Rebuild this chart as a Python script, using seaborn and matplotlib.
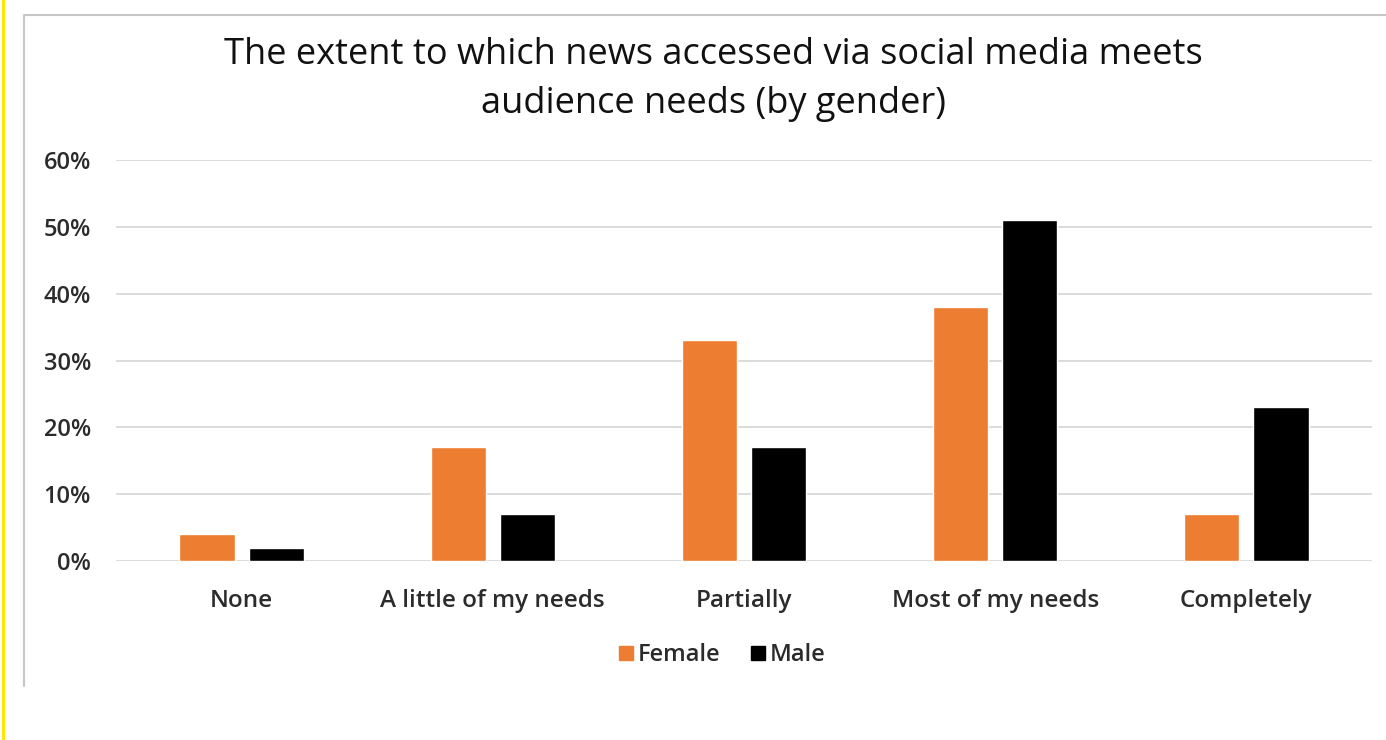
import matplotlib
matplotlib.use("Agg")
import matplotlib.pyplot as plt
from matplotlib.lines import Line2D
from matplotlib.patches import Rectangle
from matplotlib.ticker import PercentFormatter
import seaborn as sns
import pandas as pd

categories = ["None", "A little of my needs", "Partially", "Most of my needs", "Completely"]
female = [0.04, 0.17, 0.33, 0.38, 0.07]
male = [0.02, 0.07, 0.17, 0.51, 0.23]
series = ["Female", "Male"]
colors = {"Female": "#ED7D31", "Male": "#000000"}

df = pd.DataFrame({
    "category": categories * 2,
    "gender": [series[0]] * len(categories) + [series[1]] * len(categories),
    "share": female + male,
})

sns.set_theme(style="white")
plt.rcParams["font.family"] = ["Open Sans", "DejaVu Sans"]
label_color = "#2b2b2b"

W, H = 1386, 740
fig = plt.figure(figsize=(W / 100, H / 100), dpi=100)
fig.patch.set_facecolor("white")

ax = fig.add_axes([116 / W, (H - 561) / H, (1372 - 116) / W, (561 - 160) / H])
sns.barplot(data=df, x="category", y="share", hue="gender", order=categories,
            hue_order=series, palette=colors, width=0.55, gap=0.2,
            saturation=1, ax=ax, legend=False)

ax.set_ylim(0, 0.6)
ax.set_yticks([0, 0.1, 0.2, 0.3, 0.4, 0.5, 0.6])
ax.yaxis.set_major_formatter(PercentFormatter(1.0, decimals=0))
ax.grid(axis="y", color="#d9d9d9", linewidth=1.3)
ax.set_axisbelow(True)
for s in ax.spines.values():
    s.set_visible(False)
ax.set_xlabel("")
ax.set_ylabel("")
ax.tick_params(axis="y", length=0, pad=18, labelsize=17, labelcolor=label_color)
ax.tick_params(axis="x", length=0, pad=20, labelsize=17.5, labelcolor=label_color)
for lab in ax.get_xticklabels() + ax.get_yticklabels():
    lab.set_fontweight("semibold")

fig.text(0.515, (H - 55) / H, "The extent to which news accessed via social media meets",
         ha="center", va="center", fontsize=26, color="#111111")
fig.text(0.515, (H - 104) / H, "audience needs (by gender)",
         ha="center", va="center", fontsize=26, color="#111111")

handles = [Line2D([], [], marker="s", linestyle="none", markersize=10,
                  markerfacecolor=colors[g], markeredgecolor=colors[g], label=g)
           for g in series]
leg = fig.legend(handles=handles, loc="center", bbox_to_anchor=(719 / W, (H - 655) / H),
                 ncol=2, frameon=False, fontsize=17, handletextpad=-0.1,
                 handlelength=1.2, columnspacing=1.0, labelcolor=label_color)
for t in leg.get_texts():
    t.set_fontweight("semibold")

# chart frame and left accent stripe
fig.add_artist(Line2D([24 / W, 24 / W, 1.0], [(H - 686) / H, (H - 15) / H, (H - 15) / H],
                      transform=fig.transFigure, color="#c8c8c8", linewidth=1.5))
fig.add_artist(Rectangle((2 / W, 0), 3 / W, 1, transform=fig.transFigure,
                         facecolor="#FFE800", edgecolor="none"))

fig.savefig("out.png", dpi=100)
